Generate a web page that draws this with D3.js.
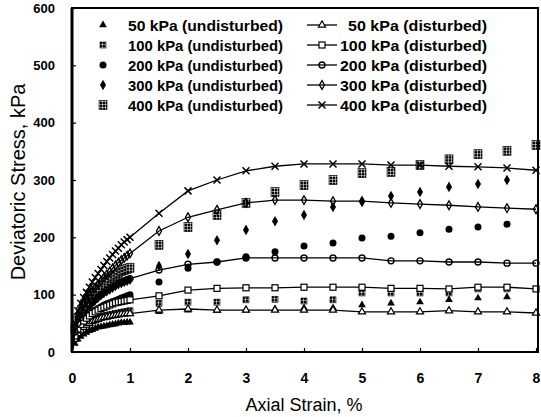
<!DOCTYPE html>
<html>
<head>
<meta charset="utf-8">
<script src="https://cdn.jsdelivr.net/npm/d3@7"></script>
<style>
  body { margin: 0; background: #fff; }
  svg { display: block; font-family: "Liberation Sans", Arial, sans-serif; }
</style>
</head>
<body>
<div id="app"></div>
<script>
// strain (%) where readings were taken
const strainEarly = [0, 0.05, 0.1, 0.15, 0.2, 0.25, 0.3, 0.35, 0.4, 0.45, 0.5,
  0.55, 0.6, 0.65, 0.7, 0.75, 0.8, 0.85, 0.9, 0.95, 1.0];
const strainLate = [1.5, 2, 2.5, 3, 3.5, 4, 4.5, 5, 5.5, 6, 6.5, 7, 7.5, 8];

// undisturbed (points only), kPa
const und50Early  = [0, 15, 22, 27, 31, 34, 37, 39, 41, 43, 44, 45, 46, 47, 48, 49, 50, 51, 51, 52, 52];
const und50Late   = [70, 73, 72, 73, 75, 77, 77, 82, 85, 87, 91, 94, 96, null];
const und100Early = [0, 25, 34, 40, 45, 49, 52, 55, 57, 59, 61, 63, 64, 65, 66, 67, 68, 69, 70, 71, 72];
const und100Late  = [85, 87, 87, 91, 92, 89, 91, 103, 103, 103, 103, 110, 110, null];
const und200Early = [0, 30, 42, 50, 56, 61, 66, 70, 73, 76, 79, 82, 84, 86, 88, 90, 92, 94, 96, 98, 100];
const und200Late  = [122, 146, 157, 166, 175, 185, 190, 199, 202, 208, 214, 218, 223, null];
const und300Early = [0, 35, 50, 60, 68, 75, 81, 86, 91, 95, 99, 103, 106, 109, 112, 115, 118, 120, 122, 124, 126];
const und300Late  = [150, 171, 195, 213, 228, 239, 253, 262, 272, 279, 288, 293, 300, null];
const und400Early = [0, 40, 58, 70, 80, 88, 95, 101, 107, 112, 117, 121, 125, 129, 132, 135, 138, 141, 143, 145, 147];
const und400Late  = [187, 218, 239, 260, 279, 291, 300, 312, 314, 326, 336, 345, 351, 361];

// disturbed (line + points), kPa
const dis50Early  = [0, 22, 32, 38, 43, 47, 50, 53, 55, 57, 59, 60, 61, 62, 63, 64, 65, 66, 66, 67, 67];
const dis50Late   = [73, 75, 73, 73, 73, 73, 73, 70, 70, 70, 72, 70, 70, 68];
const dis100Early = [0, 28, 40, 48, 54, 59, 63, 67, 70, 73, 76, 78, 80, 82, 84, 86, 87, 88, 89, 90, 91];
const dis100Late  = [98, 108, 111, 112, 112, 113, 113, 113, 111, 111, 110, 113, 113, 110];
const dis200Early = [0, 35, 50, 60, 68, 75, 81, 86, 91, 96, 100, 104, 108, 111, 114, 117, 120, 122, 124, 126, 128];
const dis200Late  = [143, 153, 157, 164, 164, 164, 164, 164, 159, 159, 157, 157, 155, 155];
const dis300Early = [0, 42, 60, 72, 82, 90, 98, 105, 112, 118, 124, 130, 135, 140, 146, 151, 156, 160, 164, 168, 172];
const dis300Late  = [211, 235, 248, 260, 265, 265, 263, 263, 260, 258, 256, 253, 251, 249];
const dis400Early = [0, 50, 72, 85, 95, 104, 113, 122, 130, 137, 144, 151, 158, 164, 170, 176, 181, 187, 192, 196, 200];
const dis400Late  = [242, 281, 300, 316, 324, 328, 328, 328, 326, 326, 324, 323, 321, 317];

const xTicks = [0, 1, 2, 3, 4, 5, 6, 7, 8];
const yTicks = [0, 100, 200, 300, 400, 500, 600];

const width = 541, height = 417;
const x = d3.scaleLinear().domain([0, 8]).range([72, 536]);
const y = d3.scaleLinear().domain([0, 600]).range([352, 8]);

const toPts = (early, late) =>
  strainEarly.map((s, i) => [s, early[i]])
    .concat(strainLate.map((s, i) => [s, late[i]]))
    .filter(d => d[1] != null);

const series = [
  { name: "50 kPa (undisturbed)",  pts: toPts(und50Early, und50Late),   mark: "triFill",  line: false },
  { name: "100 kPa (undisturbed)", pts: toPts(und100Early, und100Late), mark: "hatchS",   line: false },
  { name: "200 kPa (undisturbed)", pts: toPts(und200Early, und200Late), mark: "dot",      line: false },
  { name: "300 kPa (undisturbed)", pts: toPts(und300Early, und300Late), mark: "diaFill",  line: false },
  { name: "400 kPa (undisturbed)", pts: toPts(und400Early, und400Late), mark: "hatchL",   line: false },
  { name: "50 kPa (disturbed)",    pts: toPts(dis50Early, dis50Late),   mark: "triOpen",  line: true },
  { name: "100 kPa (disturbed)",   pts: toPts(dis100Early, dis100Late), mark: "sqOpen",   line: true },
  { name: "200 kPa (disturbed)",   pts: toPts(dis200Early, dis200Late), mark: "circOpen", line: true },
  { name: "300 kPa (disturbed)",   pts: toPts(dis300Early, dis300Late), mark: "diaOpen",  line: true },
  { name: "400 kPa (disturbed)",   pts: toPts(dis400Early, dis400Late), mark: "cross",    line: true }
];

const svg = d3.select("#app").append("svg")
  .attr("width", width)
  .attr("height", height);

// cross-hatch used for the "hatched square" markers
const pat = svg.append("defs").append("pattern")
  .attr("id", "hatch")
  .attr("patternUnits", "userSpaceOnUse")
  .attr("width", 3).attr("height", 3);
pat.append("rect").attr("width", 3).attr("height", 3).attr("fill", "#000");
pat.append("path").attr("d", "M0,2.6H3M2.6,0V3")
  .attr("stroke", "#fff").attr("stroke-width", 0.6);

// draws one marker into a selection
function drawMark(sel, kind) {
  switch (kind) {
    case "triFill":
      sel.append("path").attr("d", d3.symbol(d3.symbolTriangle, 26)()).attr("fill", "#000");
      break;
    case "triOpen":
      sel.append("path").attr("d", d3.symbol(d3.symbolTriangle, 22)())
        .attr("fill", "#fff").attr("stroke", "#000").attr("stroke-width", 1.2);
      break;
    case "hatchS":
      sel.append("rect").attr("x", -3).attr("y", -3).attr("width", 6).attr("height", 6)
        .attr("fill", "url(#hatch)").attr("stroke", "#000").attr("stroke-width", 0.6);
      break;
    case "hatchL":
      sel.append("rect").attr("x", -4).attr("y", -4.5).attr("width", 8).attr("height", 9)
        .attr("fill", "url(#hatch)").attr("stroke", "#000").attr("stroke-width", 0.6);
      break;
    case "dot":
      sel.append("circle").attr("r", 3.5).attr("fill", "#000");
      break;
    case "diaFill":
      sel.append("path").attr("d", d3.symbol(d3.symbolDiamond, 32)()).attr("fill", "#000");
      break;
    case "sqOpen":
      sel.append("rect").attr("x", -3).attr("y", -3).attr("width", 6).attr("height", 6)
        .attr("fill", "#fff").attr("stroke", "#000").attr("stroke-width", 1.2);
      break;
    case "circOpen":
      sel.append("circle").attr("r", 3)
        .attr("fill", "none").attr("stroke", "#000").attr("stroke-width", 1.4);
      break;
    case "diaOpen":
      sel.append("path").attr("d", d3.symbol(d3.symbolDiamond, 22)())
        .attr("fill", "none").attr("stroke", "#000").attr("stroke-width", 1.3);
      break;
    case "cross":
      sel.append("path").attr("d", "M-3.5,-3.5L3.5,3.5M-3.5,3.5L3.5,-3.5")
        .attr("stroke", "#000").attr("stroke-width", 1.5);
      break;
  }
}

const plot = svg.append("g");

const line = d3.line().x(d => x(d[0])).y(d => y(d[1]));

series.forEach(s => {
  const g = plot.append("g");
  if (s.line) {
    g.append("path").datum(s.pts)
      .attr("d", line)
      .attr("fill", "none")
      .attr("stroke", "#000")
      .attr("stroke-width", 1.3);
  }
  g.selectAll("g.mk")
    .data(s.pts.filter(d => d[0] > 0))
    .join("g")
    .attr("class", "mk")
    .attr("transform", d => `translate(${x(d[0])},${y(d[1])})`)
    .each(function () { drawMark(d3.select(this), s.mark); });
});

// axes
const xAxis = svg.append("g")
  .attr("transform", `translate(0,${y(0)})`)
  .call(d3.axisBottom(x).tickValues(xTicks).tickFormat(d3.format("d"))
    .tickSize(-4).tickPadding(21));
const yAxis = svg.append("g")
  .attr("transform", `translate(${x(0)},0)`)
  .call(d3.axisLeft(y).tickValues(yTicks).tickFormat(d3.format("d"))
    .tickSize(-4).tickPadding(17));

[xAxis, yAxis].forEach(a => {
  a.select(".domain").remove();
  a.selectAll(".tick line").attr("stroke", "#000").attr("stroke-width", 1.2);
  a.selectAll("text").attr("fill", "#000").attr("font-weight", "bold")
    .style("font-family", "'Liberation Sans', Arial, sans-serif");
});
xAxis.selectAll("text").attr("font-size", 14);
yAxis.selectAll("text").attr("font-size", 13);

// frame
svg.append("rect")
  .attr("x", x(0)).attr("y", y(600))
  .attr("width", x(8) + 2 - x(0)).attr("height", y(0) - y(600))
  .attr("fill", "none").attr("stroke", "#000").attr("stroke-width", 2);
svg.append("line")
  .attr("x1", x(0)).attr("x2", x(0)).attr("y1", y(600)).attr("y2", y(0))
  .attr("stroke", "#000").attr("stroke-width", 3);

// axis titles
svg.append("text")
  .attr("x", (x(0) + x(8)) / 2).attr("y", 411)
  .attr("text-anchor", "middle")
  .attr("font-size", 18)
  .text("Axial Strain, %");
svg.append("text")
  .attr("transform", `translate(25,${(y(0) + y(600)) / 2 + 2}) rotate(-90)`)
  .attr("text-anchor", "middle")
  .attr("font-size", 20)
  .text("Deviatoric Stress, kPa");

// legend
const legend = svg.append("g");
const rowY = i => 25 + i * 20;
series.slice(0, 5).forEach((s, i) => {
  const m = legend.append("g").attr("transform", `translate(103,${rowY(i)})`);
  drawMark(m, s.mark);
  legend.append("text")
    .attr("x", 128).attr("y", rowY(i) + 5.5)
    .attr("font-size", 15).attr("font-weight", "bold")
    .attr("textLength", 155).attr("lengthAdjust", "spacingAndGlyphs")
    .text(s.name);
});
series.slice(5).forEach((s, i) => {
  legend.append("line")
    .attr("x1", 307).attr("x2", 337).attr("y1", rowY(i)).attr("y2", rowY(i))
    .attr("stroke", "#000").attr("stroke-width", 1.3);
  const m = legend.append("g").attr("transform", `translate(322,${rowY(i)})`);
  drawMark(m, s.mark);
  const tx = i === 0 ? 348 : 340;
  legend.append("text")
    .attr("x", tx).attr("y", rowY(i) + 5.5)
    .attr("font-size", 15).attr("font-weight", "bold")
    .attr("textLength", 487 - tx).attr("lengthAdjust", "spacingAndGlyphs")
    .text(s.name);
});
</script>
</body>
</html>
